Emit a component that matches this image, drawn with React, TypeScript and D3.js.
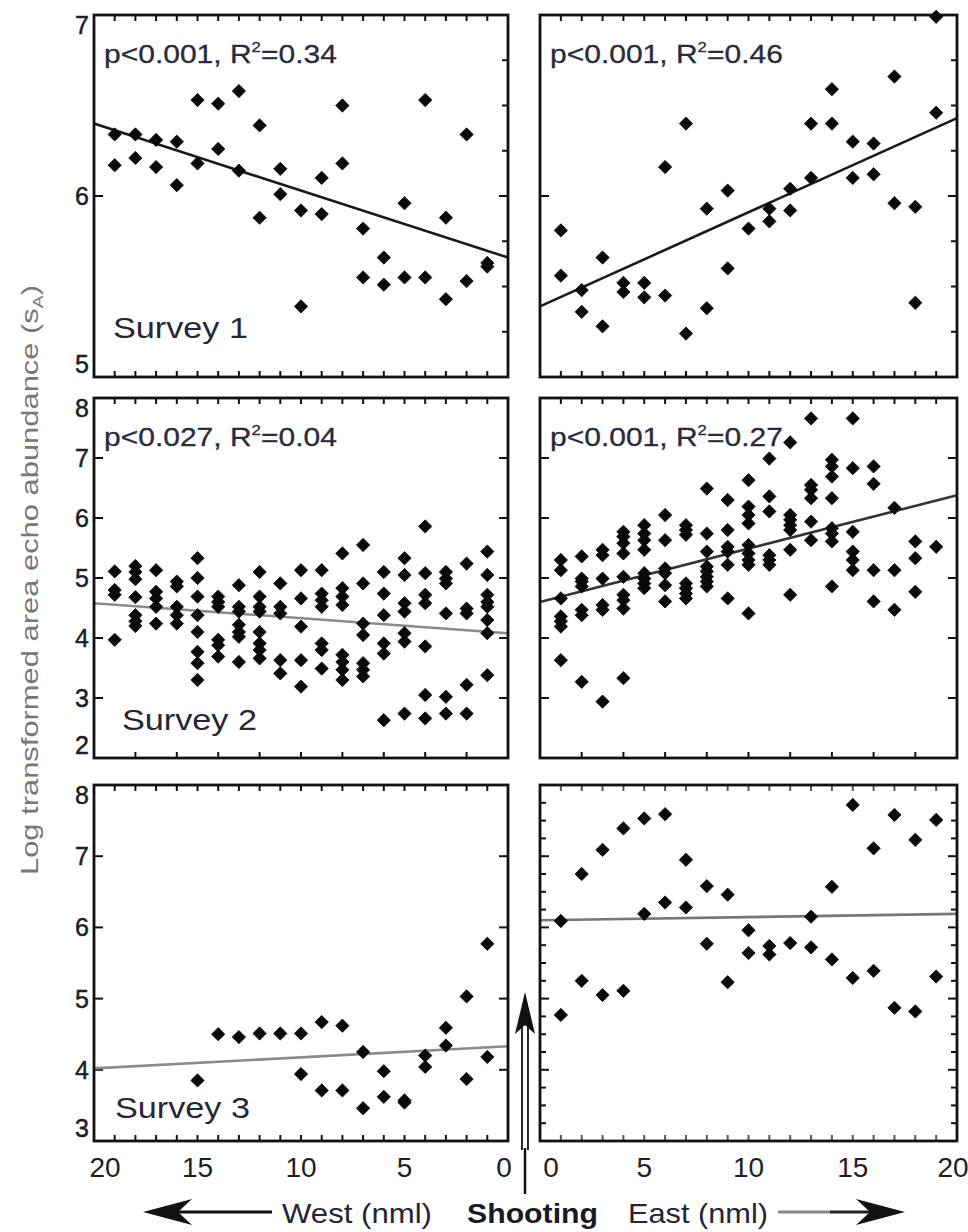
import React from 'react';
import * as d3 from 'd3';

// distance (nml) -> values measured at that station
const survey1West: [number, number[]][] = [
    [19, [6.34, 6.17]], [18, [6.34, 6.21]], [17, [6.31, 6.16]], [16, [6.30, 6.06]],
    [15, [6.53, 6.18]], [14, [6.51, 6.26]], [13, [6.58, 6.14]], [12, [6.39, 5.88]],
    [11, [6.15, 6.01]], [10, [5.92, 5.39]], [9, [6.10, 5.90]], [8, [6.50, 6.18]],
    [7, [5.82, 5.55]], [6, [5.66, 5.51]], [5, [5.96, 5.55]], [4, [6.53, 5.55]],
    [3, [5.88, 5.43]], [2, [6.34, 5.53]], [1, [5.61, 5.63]]
];
const survey1East: [number, number[]][] = [
    [1, [5.81, 5.56]], [2, [5.48, 5.36]], [3, [5.66, 5.28]], [4, [5.52, 5.47]],
    [5, [5.52, 5.44]], [6, [6.16, 5.45]], [7, [6.40, 5.24]], [8, [5.93, 5.38]],
    [9, [6.03, 5.60]], [10, [5.82]], [11, [5.93, 5.86]], [12, [6.04, 5.92]],
    [13, [6.40, 6.10]], [14, [6.59, 6.40]], [15, [6.30, 6.10]], [16, [6.29, 6.12]],
    [17, [6.66, 5.96]], [18, [5.94, 5.41]], [19, [6.46, 6.99]]
];
const survey2West: [number, number[]][] = [
    [19, [5.11, 4.80, 4.72, 3.97]], [18, [5.20, 5.10, 4.98, 4.68, 4.38, 4.28, 4.20]],
    [17, [5.13, 4.77, 4.66, 4.52, 4.24]], [16, [4.94, 4.86, 4.52, 4.38, 4.24]],
    [15, [5.33, 5.00, 4.69, 4.38, 4.10, 3.77, 3.58, 3.30]], [14, [4.69, 4.60, 4.52, 3.97, 3.88, 3.69]],
    [13, [4.88, 4.52, 4.44, 4.22, 4.10, 4.02, 3.60]], [12, [5.10, 4.69, 4.52, 4.44, 4.10, 3.91, 3.80, 3.66]],
    [11, [4.91, 4.52, 4.41, 3.63, 3.41]], [10, [5.13, 4.66, 4.19, 3.63, 3.19]],
    [9, [5.13, 4.74, 4.63, 4.52, 3.91, 3.80, 3.49]], [8, [5.41, 4.83, 4.69, 4.55, 3.72, 3.60, 3.47, 3.30]],
    [7, [5.55, 4.91, 4.24, 4.05, 3.58, 3.47, 3.36]], [6, [5.10, 4.74, 4.38, 3.91, 3.74, 2.63]],
    [5, [5.33, 5.05, 4.58, 4.44, 4.08, 3.94, 2.74]], [4, [5.86, 5.08, 4.72, 4.58, 3.86, 3.05, 2.66]],
    [3, [5.10, 4.99, 4.91, 4.41, 3.02, 2.74]], [2, [5.24, 4.49, 4.41, 3.22, 2.74]],
    [1, [5.44, 5.05, 4.72, 4.60, 4.52, 4.30, 4.08, 3.38]]
];
const survey2East: [number, number[]][] = [
    [1, [5.30, 5.13, 4.66, 4.36, 4.28, 4.19, 3.63]], [2, [5.36, 4.99, 4.94, 4.86, 4.47, 4.38, 3.27]],
    [3, [5.47, 5.38, 4.99, 4.55, 4.47, 2.94]], [4, [5.77, 5.69, 5.58, 5.41, 5.02, 4.72, 4.63, 4.49, 3.33]],
    [5, [5.88, 5.74, 5.63, 5.47, 5.08, 4.99, 4.91, 4.83]], [6, [6.05, 5.63, 5.16, 5.08, 4.88, 4.61]],
    [7, [5.88, 5.80, 5.72, 4.91, 4.83, 4.74, 4.66]], [8, [6.49, 5.74, 5.44, 5.19, 5.11, 5.02, 4.94, 4.86]],
    [9, [6.30, 5.80, 5.52, 5.44, 5.22, 4.66]], [10, [6.63, 6.19, 6.05, 5.91, 5.55, 5.41, 5.30, 5.22, 4.41]],
    [11, [6.99, 6.36, 6.11, 5.38, 5.30, 5.22]], [12, [7.26, 6.05, 5.97, 5.88, 5.80, 5.47, 4.72]],
    [13, [7.66, 6.55, 6.47, 6.33, 5.94, 5.63]], [14, [6.97, 6.86, 6.69, 6.33, 5.83, 5.74, 5.61, 4.86]],
    [15, [7.66, 6.83, 5.77, 5.44, 5.30, 5.13]], [16, [6.86, 6.57, 5.13, 4.61]],
    [17, [6.17, 5.13, 4.47]], [18, [5.61, 5.33, 4.77]], [19, [5.52]]
];
const survey3West: [number, number[]][] = [
    [15, [3.85]], [14, [4.50]], [13, [4.46]], [12, [4.51]], [11, [4.51]],
    [10, [4.51, 3.94]], [9, [4.67, 3.71]], [8, [4.62, 3.71]], [7, [4.25, 3.46]],
    [6, [3.98, 3.62]], [5, [3.57, 3.54]], [4, [4.20, 4.04]], [3, [4.59, 4.34]],
    [2, [5.03, 3.87]], [1, [5.77, 4.18]]
];
const survey3East: [number, number[]][] = [
    [1, [6.09, 4.77]], [2, [6.75, 5.25]], [3, [7.09, 5.05]], [4, [7.39, 5.11]],
    [5, [7.53, 6.19]], [6, [7.59, 6.35]], [7, [6.95, 6.28]], [8, [6.58, 5.77]],
    [9, [6.46, 5.23]], [10, [5.96, 5.64]], [11, [5.74, 5.62]], [12, [5.78]],
    [13, [6.15, 5.72]], [14, [6.57, 5.55]], [15, [7.72, 5.29]], [16, [7.11, 5.39]],
    [17, [7.58, 4.87]], [18, [7.23, 4.82]], [19, [7.51, 5.31]]
];

// regression line end points [distance, value]
const fit1West = [[20, 6.40], [0, 5.66]];
const fit1East = [[0, 5.39], [20, 6.43]];
const fit2West = [[20, 4.58], [0, 4.08]];
const fit2East = [[0, 4.60], [20, 6.38]];
const fit3West = [[20, 4.02], [0, 4.33]];
const fit3East = [[0, 6.10], [20, 6.19]];

const pValues = ['p<0.001', 'p<0.001', 'p<0.027', 'p<0.001'];
const r2Values = ['0.34', '0.46', '0.04', '0.27'];
const surveyNames = ['Survey 1', 'Survey 2', 'Survey 3'];
const yTickLabels = [[5, 6, 7], [2, 3, 4, 5, 6, 7, 8], [3, 4, 5, 6, 7, 8]];
const xTickLabels = [0, 5, 10, 15, 20];

const FONT = '"Liberation Sans", Arial, sans-serif';

const rows = [
    { top: 15, bottom: 377, domain: [5, 7] },
    { top: 398, bottom: 758, domain: [2, 8] },
    { top: 785, bottom: 1141, domain: [3, 8] }
];
const cols = {
    west: { left: 94, right: 508, domain: [20, 0] },
    east: { left: 540, right: 957, domain: [0, 20] }
};

const panels = [
    { row: 0, side: 'west', pts: survey1West, fit: fit1West, fitColor: '#1a1a1a', stat: 0, ticks: { top: 1, bottom: 1, left: 'six', right: 0.25 } },
    { row: 0, side: 'east', pts: survey1East, fit: fit1East, fitColor: '#1a1a1a', stat: 1, ticks: { top: 1, bottom: 1, left: 'six', right: 0.25 } },
    { row: 1, side: 'west', pts: survey2West, fit: fit2West, fitColor: '#8a8a8a', stat: 2, ticks: { top: 1, bottom: 2, left: 1, right: 1 } },
    { row: 1, side: 'east', pts: survey2East, fit: fit2East, fitColor: '#333', stat: 3, ticks: { top: 1, bottom: 2, left: 1, right: 1 } },
    { row: 2, side: 'west', pts: survey3West, fit: fit3West, fitColor: '#8a8a8a', stat: -1, ticks: { top: 1, bottom: 1, left: 1, right: 1 } },
    { row: 2, side: 'east', pts: survey3East, fit: fit3East, fitColor: '#777', stat: -1, ticks: { top: 1, bottom: 1, left: 0.25, right: 0.25 } }
];

const marker = d3.symbol(d3.symbolSquare, 88)();

function Panel({ p }: { p: any }) {
    const r = rows[p.row];
    const c = cols[p.side];
    const x = d3.scaleLinear().domain(c.domain).range([c.left, c.right]);
    const y = d3.scaleLinear().domain(r.domain).range([r.bottom, r.top]);
    const line = d3.line<number[]>().x(d => x(d[0])).y(d => y(d[1]));
    const tickCol = p.row === 2 && p.side === 'east' ? '#555' : '#111';

    const yTicks = (step: any) => {
        if (step === 'six') return [6];
        return d3.range(r.domain[0], r.domain[1] + 1e-6, step).filter(v => v > r.domain[0] + 1e-6 && v < r.domain[1] - 1e-6);
    };
    const xTicks = (step: number) => d3.range(step, 20, step);

    const tl = (v: number) => (Math.abs(v - Math.round(v)) < 1e-6 ? 9 : 6);

    return (
        <g>
            {xTicks(p.ticks.top).map(v => (
                <line key={'t' + v} x1={x(v)} x2={x(v)} y1={r.top} y2={r.top + 6} stroke={tickCol} strokeWidth={2} />
            ))}
            {xTicks(p.ticks.bottom).map(v => (
                <line key={'b' + v} x1={x(v)} x2={x(v)} y1={r.bottom} y2={r.bottom - 6} stroke={tickCol} strokeWidth={2} />
            ))}
            {yTicks(p.ticks.left).map(v => (
                <line key={'l' + v} x1={c.left} x2={c.left + tl(v)} y1={y(v)} y2={y(v)} stroke="#111" strokeWidth={2} />
            ))}
            {yTicks(p.ticks.right).map(v => (
                <line key={'r' + v} x1={c.right} x2={c.right - tl(v)} y1={y(v)} y2={y(v)} stroke="#111" strokeWidth={2} />
            ))}
            <path d={line(p.fit) as string} stroke={p.fitColor} strokeWidth={2.6} fill="none" />
            {p.pts.flatMap(([d, vals]: [number, number[]]) =>
                vals.map((v, i) => (
                    <path key={d + '-' + i} d={marker} transform={`translate(${x(d)},${y(v)}) rotate(45)`}
                        fill="#0a0a0a" stroke="#0a0a0a" strokeWidth={0.8} strokeLinejoin="round" />
                ))
            )}
            <rect x={c.left} y={r.top} width={c.right - c.left} height={r.bottom - r.top} fill="none" stroke="#111" strokeWidth={2.8} />
            {p.stat >= 0 && (
                <g transform={`translate(${c.left + 10},${r.top + 48}) scale(1.2,1)`}>
                    <text fontFamily={FONT} fontSize={25} fill="#2b2b3b" stroke="#2b2b3b" strokeWidth={0.3}>
                        {pValues[p.stat]}, R
                        <tspan fontSize={14} dy={-11}>2</tspan>
                        <tspan dy={11}>={r2Values[p.stat]}</tspan>
                    </text>
                </g>
            )}
        </g>
    );
}

export default function App() {
    const surveyPos = [[113, 338], [122, 730], [115, 1118]];
    return (
        <svg width={968} height={1232} style={{ position: 'absolute', left: 0, top: 0, background: '#fff' }}>
            <rect width={968} height={1232} fill="#fff" />
            {panels.map((p, i) => <Panel key={i} p={p} />)}

            {rows.map((r, ri) => {
                const y = d3.scaleLinear().domain(r.domain).range([r.bottom, r.top]);
                return yTickLabels[ri].map(v => {
                    const cy = Math.max(r.top + 10, Math.min(r.bottom - 13, y(v)));
                    return (
                        <text key={ri + '-' + v} x={89} y={cy} dy="0.36em" textAnchor="end"
                            fontFamily={FONT} fontSize={25} fill="#1d1d2a" stroke="#1d1d2a" strokeWidth={0.5}>{v}</text>
                    );
                });
            })}

            {surveyNames.map((s, i) => (
                <text key={s} x={surveyPos[i][0]} y={surveyPos[i][1]} fontFamily={FONT} fontSize={30}
                    fill="#262636" textLength={135} lengthAdjust="spacingAndGlyphs">{s}</text>
            ))}

            {(['west', 'east'] as const).map(side => {
                const c = cols[side];
                const x = d3.scaleLinear().domain(c.domain).range([c.left, c.right]);
                return xTickLabels.map(v => (
                    <text key={side + v} x={Math.max(c.left + 11, Math.min(c.right - 4, x(v)))} y={1177}
                        textAnchor="middle" fontFamily={FONT} fontSize={28} fill="#1d1d2a">{v}</text>
                ));
            })}

            <text transform="translate(38,580) rotate(-90)" textAnchor="middle" fontFamily={FONT} fontSize={24}
                fill="#777" textLength={590} lengthAdjust="spacingAndGlyphs">
                Log transformed area echo abundance (s<tspan fontSize={15} dy={5}>A</tspan><tspan dy={-5}>)</tspan>
            </text>

            {/* shooting marker */}
            <line x1={522} x2={522} y1={1026} y2={1150} stroke="#111" strokeWidth={1.8} />
            <line x1={528} x2={528} y1={1026} y2={1150} stroke="#111" strokeWidth={1.8} />
            <line x1={525} x2={525} y1={1148} y2={1194} stroke="#111" strokeWidth={2.5} />
            <path d="M525,992 L535,1034 L525,1025 L515,1034 Z" fill="#111" />

            {/* direction arrows */}
            <line x1={160} x2={272} y1={1212} y2={1212} stroke="#111" strokeWidth={3} />
            <path d="M143,1212 L192,1199 L178,1212 L192,1225 Z" fill="#111" />
            <line x1={778} x2={830} y1={1212} y2={1212} stroke="#888" strokeWidth={3} />
            <line x1={830} x2={888} y1={1212} y2={1212} stroke="#222" strokeWidth={3} />
            <path d="M905,1212 L856,1199 L870,1212 L856,1225 Z" fill="#111" />

            <text x={282} y={1223} fontFamily={FONT} fontSize={28} fill="#252535" textLength={150} lengthAdjust="spacingAndGlyphs">West (nml)</text>
            <text x={467} y={1223} fontFamily={FONT} fontSize={28} fontWeight="bold" fill="#1a1a24" textLength={131} lengthAdjust="spacingAndGlyphs">Shooting</text>
            <text x={628} y={1223} fontFamily={FONT} fontSize={28} fill="#252535" textLength={140} lengthAdjust="spacingAndGlyphs">East (nml)</text>
        </svg>
    );
}
